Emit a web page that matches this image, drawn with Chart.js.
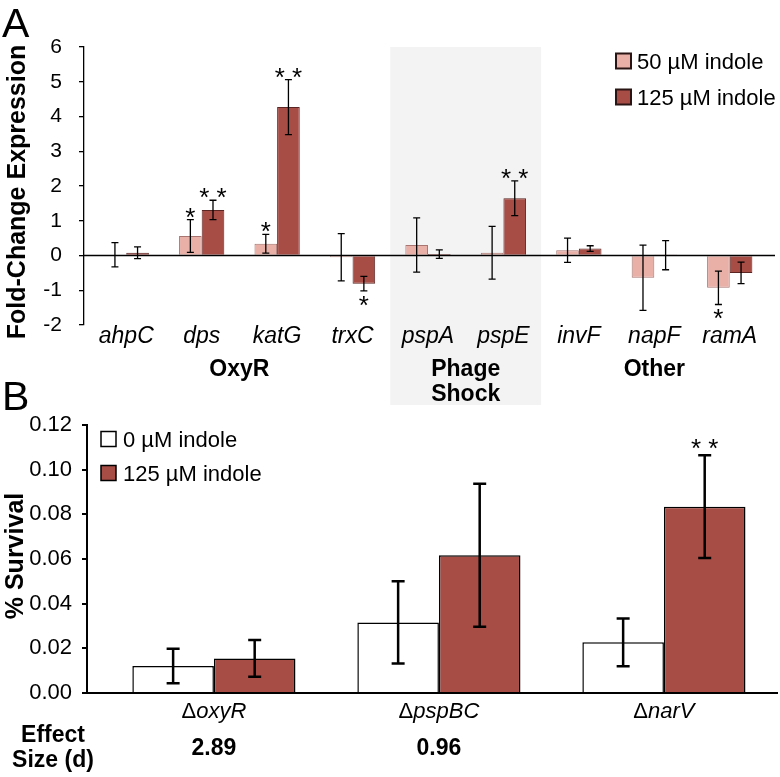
<!DOCTYPE html>
<html>
<head>
<meta charset="utf-8">
<script src="https://cdn.jsdelivr.net/npm/chart.js@4.4.1/dist/chart.umd.min.js"></script>
<style>
    html, body { margin: 0; padding: 0; background: #fff; }
    #panelA { position: absolute; left: 0; top: 0; }
    #panelB { position: absolute; left: 0; top: 375px; }
</style>
</head>
<body>
<canvas id="panelA" width="780" height="410"></canvas>
<canvas id="panelB" width="780" height="402"></canvas>
<script>
// ---- panel A : fold change ----
const genes = ['ahpC', 'dps', 'katG', 'trxC', 'pspA', 'pspE', 'invF', 'napF', 'ramA'];
const indole50 = [0.02, 0.56, 0.34, -0.05, 0.30, 0.08, 0.15, -0.64, -0.93];
const indole50Err = [0.35, 0.47, 0.27, 0.68, 0.78, 0.76, 0.35, 0.94, 0.48];
const indole125 = [0.08, 1.31, 4.27, -0.81, 0.04, 1.65, 0.20, 0.01, -0.50];
const indole125Err = [0.17, 0.28, 0.79, 0.21, 0.12, 0.50, 0.08, 0.42, 0.31];
const sig50 = ['', '*', '*', '', '', '', '', '', '*'];
const sig125 = ['', '* *', '* *', '*', '', '* *', '', '', ''];
const groupNames = [['OxyR'], ['Phage', 'Shock'], ['Other']];
const groupFirst = [0, 4, 6];
const groupLast = [3, 5, 8];
const shadedGroup = 1;
const ticksA = [-2, -1, 0, 1, 2, 3, 4, 5, 6];

// ---- panel B : survival ----
const mutants = ['oxyR', 'pspBC', 'narV'];
const survival0 = [0.0121, 0.0316, 0.0227];
const survival0Err = [0.0077, 0.0184, 0.0107];
const survival125 = [0.0155, 0.0617, 0.0834];
const survival125Err = [0.0082, 0.0320, 0.0230];
const sigB0 = ['', '', ''];
const sigB125 = ['', '', '* *'];
const effectSize = ['2.89', '0.96', ''];
const ticksB = [0, 0.02, 0.04, 0.06, 0.08, 0.10, 0.12];

const FONT = '"Liberation Sans", Arial, sans-serif';
const LIGHT = '#e8b0a7';
const DARK = '#a84c46';

const toPoints = arr => arr.map((v, i) => ({ x: i, y: v }));

// error bars + significance stars
const errorBars = {
    id: 'errorBars',
    afterDatasetsDraw(chart, args, opts) {
        const { ctx, scales: { x, y } } = chart;
        ctx.save();
        // baseline at zero
        ctx.strokeStyle = '#000';
        ctx.lineWidth = opts.zeroWidth;
        ctx.beginPath();
        ctx.moveTo(x.left, y.getPixelForValue(0));
        ctx.lineTo(x.right, y.getPixelForValue(0));
        ctx.stroke();

        ctx.lineWidth = opts.lineWidth;
        ctx.fillStyle = '#000';
        ctx.font = '26px ' + FONT;
        ctx.textAlign = 'center';
        ctx.textBaseline = 'alphabetic';
        chart.data.datasets.forEach((ds, d) => {
            const meta = chart.getDatasetMeta(d);
            ds.errors.forEach((e, i) => {
                const bx = meta.data[i].x;
                const v = ds.data[i].y;
                const top = y.getPixelForValue(v + e);
                const bot = y.getPixelForValue(v - e);
                ctx.beginPath();
                ctx.moveTo(bx, top); ctx.lineTo(bx, bot);
                ctx.moveTo(bx - opts.cap, top); ctx.lineTo(bx + opts.cap, top);
                ctx.moveTo(bx - opts.cap, bot); ctx.lineTo(bx + opts.cap, bot);
                ctx.stroke();
                const s = ds.sig[i];
                if (s) {
                    if (v >= 0) ctx.fillText(s, bx, top + opts.starAbove);
                    else ctx.fillText(s, bx, bot + 23);
                }
            });
        });
        ctx.restore();
    }
};

// ---------------- panel A ----------------
new Chart(document.getElementById('panelA'), {
    type: 'bar',
    plugins: [errorBars, {
        id: 'panelADecor',
        beforeDatasetsDraw(chart) {
            const { ctx, scales: { x, y } } = chart;
            const x0 = x.getPixelForValue(groupFirst[shadedGroup] - 0.5);
            const x1 = x.getPixelForValue(groupLast[shadedGroup] + 0.5);
            ctx.save();
            ctx.fillStyle = '#f3f3f3';
            ctx.fillRect(x0, y.top, x1 - x0, 405 - y.top);
            ctx.restore();
        },
        afterDraw(chart) {
            const { ctx, scales: { x, y } } = chart;
            ctx.save();
            ctx.fillStyle = '#000';
            ctx.textAlign = 'center';
            ctx.textBaseline = 'alphabetic';
            ctx.font = 'italic 23px ' + FONT;
            genes.forEach((g, i) => ctx.fillText(g, x.getPixelForValue(i), 343));
            ctx.font = 'bold 23px ' + FONT;
            groupNames.forEach((lines, k) => {
                const cx = x.getPixelForValue((groupFirst[k] + groupLast[k]) / 2);
                lines.forEach((t, j) => ctx.fillText(t, cx, 376 + j * 25));
            });
            // panel letter
            ctx.textAlign = 'left';
            ctx.font = '41px ' + FONT;
            ctx.fillText('A', 2, 37);
            // y title
            ctx.save();
            ctx.translate(25, 192);
            ctx.rotate(-Math.PI / 2);
            ctx.textAlign = 'center';
            ctx.font = 'bold 25px ' + FONT;
            ctx.fillText('Fold-Change Expression', 0, 0);
            ctx.restore();
            // legend
            ctx.font = '22px ' + FONT;
            chart.data.datasets.forEach((ds, d) => {
                const cy = 61 + d * 36;
                ctx.fillStyle = ds.backgroundColor;
                ctx.fillRect(616, cy - 7.5, 15, 15);
                ctx.strokeStyle = '#2b1514';
                ctx.lineWidth = 2;
                ctx.strokeRect(616, cy - 7.5, 15, 15);
                ctx.fillStyle = '#000';
                ctx.fillText(ds.label, 637, cy + 8);
            });
            ctx.restore();
        }
    }],
    data: {
        datasets: [
            {
                label: '50 µM indole',
                data: toPoints(indole50),
                errors: indole50Err,
                sig: sig50,
                backgroundColor: LIGHT,
                borderColor: '#a87570',
                borderWidth: 1
            },
            {
                label: '125 µM indole',
                data: toPoints(indole125),
                errors: indole125Err,
                sig: sig125,
                backgroundColor: DARK,
                borderColor: '#5a2523',
                borderWidth: 1
            }
        ]
    },
    options: {
        responsive: false,
        animation: false,
        devicePixelRatio: 1,
        categoryPercentage: 0.6,
        barPercentage: 1.0,
        layout: { padding: { left: 0, top: 47, right: 5, bottom: 85 } },
        plugins: {
            legend: { display: false },
            tooltip: { enabled: false },
            errorBars: { lineWidth: 1.3, cap: 3.5, zeroWidth: 1.5, starAbove: 6 }
        },
        scales: {
            x: {
                type: 'linear', min: -0.56, max: 8.6, offset: false, display: false,
                afterBuildTicks(scale) { scale.ticks = genes.map((g, i) => ({ value: i })); }
            },
            y: {
                min: -2,
                max: 6,
                afterFit(scale) { scale.width = 84; },
                afterBuildTicks(scale) { scale.ticks = ticksA.map(v => ({ value: v })); },
                ticks: { color: '#000', font: { family: FONT, size: 21 }, padding: 17 },
                grid: { drawOnChartArea: false, drawTicks: true, tickLength: 5, color: '#000', lineWidth: 1.3 },
                border: { color: '#000', width: 1.3 }
            }
        }
    }
});

// ---------------- panel B ----------------
new Chart(document.getElementById('panelB'), {
    type: 'bar',
    plugins: [errorBars, {
        id: 'panelBDecor',
        afterDraw(chart) {
            const { ctx, scales: { x } } = chart;
            ctx.save();
            ctx.fillStyle = '#000';
            ctx.textBaseline = 'alphabetic';
            // mutant labels: upright delta + italic name
            mutants.forEach((m, i) => {
                const cx = x.getPixelForValue(i);
                ctx.font = '22px ' + FONT;
                const wd = ctx.measureText('Δ').width;
                ctx.font = 'italic 22px ' + FONT;
                const wm = ctx.measureText(m).width;
                const left = cx - (wd + wm) / 2;
                ctx.textAlign = 'left';
                ctx.font = '22px ' + FONT;
                ctx.fillText('Δ', left, 343);
                ctx.font = 'italic 22px ' + FONT;
                ctx.fillText(m, left + wd, 343);
                ctx.textAlign = 'center';
                ctx.font = 'bold 23px ' + FONT;
                if (effectSize[i]) ctx.fillText(effectSize[i], cx, 380);
            });
            ctx.textAlign = 'center';
            ctx.font = 'bold 23px ' + FONT;
            ctx.fillText('Effect', 53, 367);
            ctx.fillText('Size (d)', 53, 392);
            // panel letter
            ctx.textAlign = 'left';
            ctx.font = '41px ' + FONT;
            ctx.fillText('B', 2, 35);
            // y title
            ctx.save();
            ctx.translate(23, 181);
            ctx.rotate(-Math.PI / 2);
            ctx.textAlign = 'center';
            ctx.font = 'bold 25px ' + FONT;
            ctx.fillText('% Survival', 0, 0);
            ctx.restore();
            // legend
            ctx.font = '22px ' + FONT;
            chart.data.datasets.forEach((ds, d) => {
                const cy = 64 + d * 34;
                ctx.fillStyle = ds.backgroundColor;
                ctx.fillRect(101, cy - 7.5, 15, 15);
                ctx.strokeStyle = '#000';
                ctx.lineWidth = 1.5;
                ctx.strokeRect(101, cy - 7.5, 15, 15);
                ctx.fillStyle = '#000';
                ctx.fillText(ds.label, 123, cy + 8);
            });
            ctx.restore();
        }
    }],
    data: {
        datasets: [
            {
                label: '0 µM indole',
                data: toPoints(survival0),
                errors: survival0Err,
                sig: sigB0,
                backgroundColor: '#ffffff',
                borderColor: '#000',
                borderWidth: 1.5
            },
            {
                label: '125 µM indole',
                data: toPoints(survival125),
                errors: survival125Err,
                sig: sigB125,
                backgroundColor: DARK,
                borderColor: '#000',
                borderWidth: 1.5
            }
        ]
    },
    options: {
        responsive: false,
        animation: false,
        devicePixelRatio: 1,
        categoryPercentage: 0.725,
        barPercentage: 1.0,
        layout: { padding: { left: 0, top: 50, right: 2, bottom: 84 } },
        plugins: {
            legend: { display: false },
            tooltip: { enabled: false },
            errorBars: { lineWidth: 2.5, cap: 6.5, zeroWidth: 2, starAbove: 2 }
        },
        scales: {
            x: {
                type: 'linear', min: -0.564, max: 2.507, offset: false, display: false,
                afterBuildTicks(scale) { scale.ticks = mutants.map((m, i) => ({ value: i })); }
            },
            y: {
                min: 0,
                max: 0.12,
                afterFit(scale) { scale.width = 87; },
                afterBuildTicks(scale) { scale.ticks = ticksB.map(v => ({ value: v })); },
                ticks: {
                    color: '#000',
                    font: { family: FONT, size: 22 },
                    padding: 10,
                    callback: v => v.toFixed(2)
                },
                grid: { drawOnChartArea: false, drawTicks: true, tickLength: 5, color: '#000', lineWidth: 2 },
                border: { color: '#000', width: 2 }
            }
        }
    }
});
</script>
</body>
</html>
